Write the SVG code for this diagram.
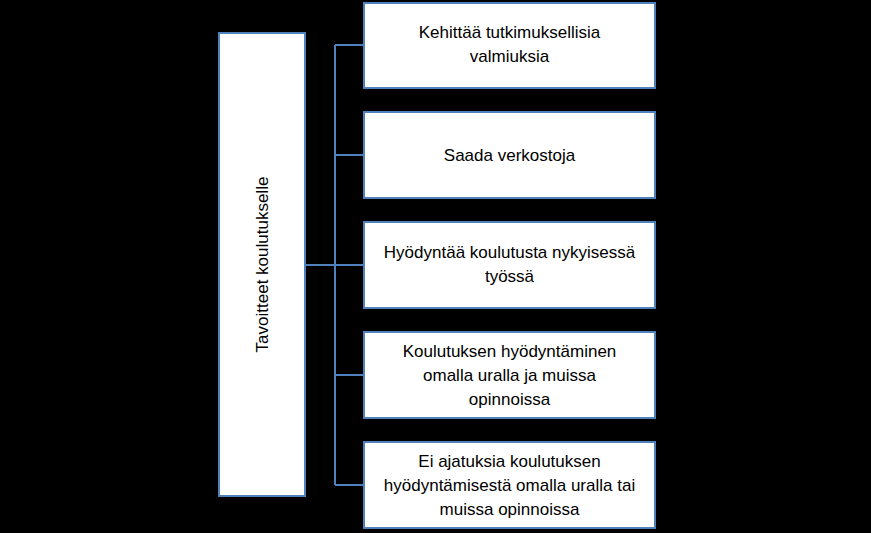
<svg xmlns="http://www.w3.org/2000/svg" width="871" height="533" viewBox="0 0 871 533">
<style>
.b{fill:#fff;stroke:#4f81bd;stroke-width:2}
.t{font-family:"Liberation Sans",Arial,sans-serif;font-size:17px;fill:#000;text-anchor:middle}
.c{fill:none;stroke:#4f81bd;stroke-width:2}
</style>
<rect width="871" height="533" fill="#000"/>
<g id="connectors">
<path class="c" d="M305,265H335M335,45V485M335,45H364M335,155H364M335,265H364M335,375H364M335,485H364"/>
</g>
<g id="root"><rect class="b" x="219" y="33" width="86" height="463"/>
<text class="t" transform="translate(268,264.5) rotate(-90)">Tavoitteet koulutukselle</text></g>
<g id="n1"><rect class="b" x="364" y="3" width="291" height="85"/>
<text class="t" x="509.5" y="38">Kehittää tutkimuksellisia</text><text class="t" x="509.5" y="62">valmiuksia</text></g>
<g id="n2"><rect class="b" x="364" y="112" width="291" height="86"/>
<text class="t" x="509.5" y="161">Saada verkostoja</text></g>
<g id="n3"><rect class="b" x="364" y="222" width="291" height="86"/>
<text class="t" x="509.5" y="258">Hyödyntää koulutusta nykyisessä</text><text class="t" x="509.5" y="282">työssä</text></g>
<g id="n4"><rect class="b" x="364" y="332" width="291" height="86"/>
<text class="t" x="509.5" y="357">Koulutuksen hyödyntäminen</text><text class="t" x="509.5" y="381">omalla uralla ja muissa</text><text class="t" x="509.5" y="405">opinnoissa</text></g>
<g id="n5"><rect class="b" x="364" y="442" width="291" height="86"/>
<text class="t" x="509.5" y="467">Ei ajatuksia koulutuksen</text><text class="t" x="509.5" y="491">hyödyntämisestä omalla uralla tai</text><text class="t" x="509.5" y="515">muissa opinnoissa</text></g>
</svg>
